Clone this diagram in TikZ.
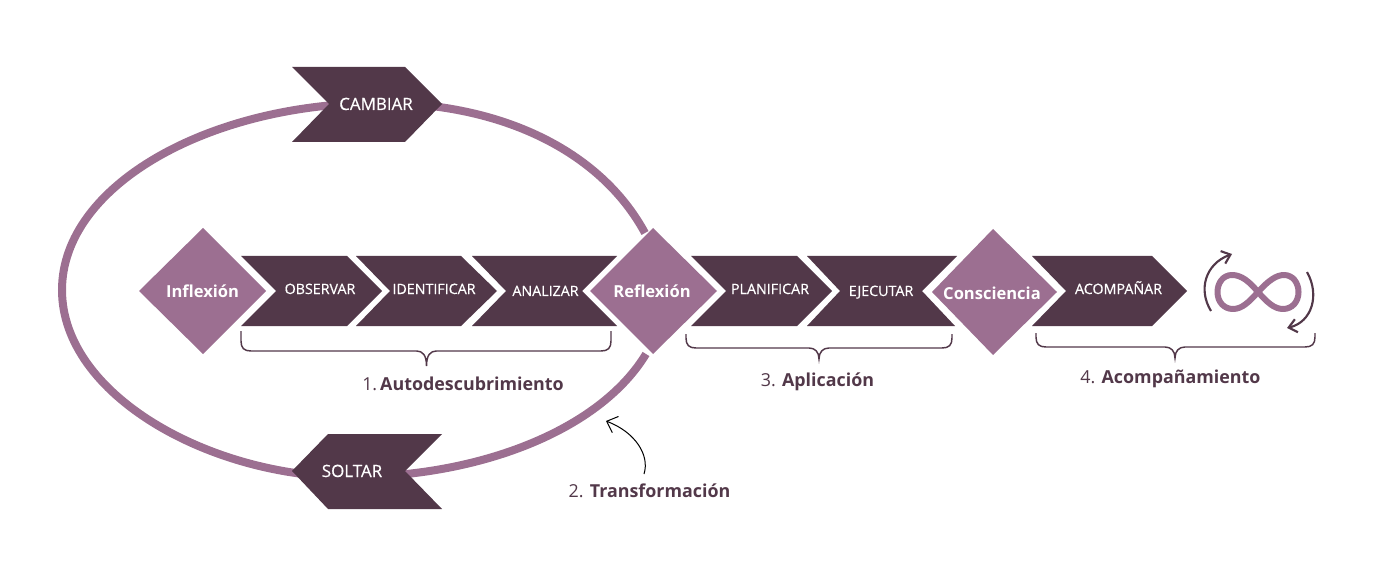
\documentclass[tikz,border=0pt]{standalone}
\usepackage{fontspec}
\setmainfont{Open Sans}
\newfontfamily\medfont[FakeBold=0.5]{Open Sans}
\usetikzlibrary{arrows.meta}
\definecolor{plum}{HTML}{523849}
\definecolor{mauve}{HTML}{9C6F91}
\newcommand{\mybrace}[6]{%
  \draw[bracel] (#1,#3) -- (#1,#4-10) .. controls (#1,#4-3) and (#1+3,#4) .. (#1+10,#4)
    -- (#5-10,#4) .. controls (#5-4,#4) and (#5,#4+4) .. (#5,#6)
    .. controls (#5,#4+4) and (#5+4,#4) .. (#5+10,#4)
    -- (#2-10,#4) .. controls (#2-3,#4) and (#2,#4-3) .. (#2,#4-10) -- (#2,#3);}
\tikzset{
  x=0.75pt,y=-0.75pt,
  darkshape/.style={fill=plum},
  midshape/.style={fill=mauve},
  ring/.style={draw=mauve,line width=6pt,line cap=butt},
  bracel/.style={draw=plum,line width=1.1pt},
  chevtext/.style={anchor=base,text=white,font=\medfont\fontsize{10.7pt}{12pt}\selectfont,inner sep=0pt},
  bigchev/.style={anchor=base,text=white,font=\medfont\fontsize{12.7pt}{14pt}\selectfont,inner sep=0pt},
  diatext/.style={anchor=base,text=white,font=\fontsize{12.4pt}{14pt}\selectfont\bfseries,inner sep=0pt},
  caption/.style={anchor=base,text=plum,font=\fontsize{13.4pt}{16pt}\selectfont,inner sep=0pt},
  cyclearrow/.style={draw=plum,line width=1.6pt,-{Straight Barb[length=6pt,width=10pt,line width=1.6pt]}},
  callout/.style={draw=black,line width=0.75pt,-{Straight Barb[length=7pt,width=13pt,line width=0.75pt]}}
}
\begin{document}
\begin{tikzpicture}
\useasboundingbox (0,0) rectangle (1386,581);
% ring
\draw[ring] (645,233) .. controls (600,150) and (500,103) .. (380,103)
  .. controls (210,103) and (62,185) .. (62,290)
  .. controls (62,395) and (210,477) .. (350,477)
  .. controls (480,477) and (600,430) .. (646,354);
% top and bottom chevrons
\fill[darkshape] (292,67) -- (405,67) -- (442,104) -- (405,142) -- (292,142) -- (329,104) -- cycle;
\fill[darkshape] (328,434) -- (442,434) -- (405,471) -- (442,509) -- (328,509) -- (292,471) -- cycle;
% row chevrons
\fill[darkshape] (241,256) -- (347,256) -- (382,291) -- (347,326) -- (241,326) -- (276,291) -- cycle;
\fill[darkshape] (356,256) -- (461,256) -- (497,291) -- (461,326) -- (356,326) -- (390,291) -- cycle;
\fill[darkshape] (472,256) -- (617,256) -- (582,291) -- (617,326) -- (472,326) -- (506,291) -- cycle;
\fill[darkshape] (691,256) -- (797,256) -- (832,291) -- (797,326) -- (691,326) -- (726,291) -- cycle;
\fill[darkshape] (807,256) -- (957,256) -- (922,291) -- (955,326) -- (807,326) -- (840,291) -- cycle;
\fill[darkshape] (1032,256) -- (1152,256) -- (1187,291) -- (1152,326) -- (1032,326) -- (1066,291) -- cycle;
% diamonds
\fill[midshape] (203,228) -- (266,291) -- (203,354) -- (139,291) -- cycle;
\fill[midshape] (653,228) -- (717,291) -- (653,354) -- (590,291) -- cycle;
\fill[midshape] (993,229) -- (1057,292) -- (993,355) -- (932,292) -- cycle;
% labels
\node[bigchev] (cambiar) at (376,110) {CAMBIAR};
\node[bigchev] (soltar) at (352,477) {SOLTAR};
\node[chevtext] (observar) at (320,294) {OBSERVAR};
\node[chevtext] (identificar) at (434,294) {IDENTIFICAR};
\node[chevtext] (analizar) at (545.5,296) {ANALIZAR};
\node[chevtext] (planificar) at (770,294) {PLANIFICAR};
\node[chevtext] (ejecutar) at (881,296) {EJECUTAR};
\node[chevtext] (acompanar) at (1118.5,294) {ACOMPAÑAR};
\node[diatext] (inflexion) at (202.5,297) {Inflexión};
\node[diatext] (reflexion) at (652,297) {Reflexión};
\node[diatext] (consciencia) at (992,299) {Consciencia};
% braces
\mybrace{241}{611}{331}{351}{426.5}{366}
\mybrace{686}{952}{334}{348}{819}{359}
\mybrace{1036}{1315}{333}{347}{1175}{358}
\node[caption] (cap1) at (463,390) {1.\,\textbf{Autodescubrimiento}};
\node[caption] (cap2) at (649.5,497) {2. \textbf{Transformación}};
\node[caption] (cap3) at (817.5,386) {3. \textbf{Aplicación}};
\node[caption] (cap4) at (1170.5,383) {4. \textbf{Acompañamiento}};
% callout
\coordinate (calloutstart) at (644,474);
\coordinate (callouttip) at (606,421);
\draw[callout] (calloutstart) .. controls (650,455) and (635,432) .. (callouttip);
% infinity
\draw[draw=mauve,line width=4.5pt,line join=round]
  (1258,292) .. controls (1268,281) and (1276,275) .. (1284,275)
  .. controls (1293,275) and (1298.5,283) .. (1298.5,292)
  .. controls (1298.5,302) and (1292,309) .. (1283,309)
  .. controls (1274,309) and (1267,302) .. (1258,292)
  .. controls (1249,281) and (1241,275) .. (1232,275)
  .. controls (1223,275) and (1217.5,283) .. (1217.5,292)
  .. controls (1217.5,302) and (1224,309) .. (1233,309)
  .. controls (1242,309) and (1249,302) .. (1258,292) -- cycle;
\coordinate (loopa) at (1211,311);
\coordinate (loopb) at (1232,254);
\coordinate (loopc) at (1307,272);
\coordinate (loopd) at (1287,328);
\draw[cyclearrow] (loopa) .. controls (1198,290) and (1205,264) .. (loopb);
\draw[cyclearrow] (loopc) .. controls (1320,295) and (1312,322) .. (loopd);
\end{tikzpicture}
\end{document}
